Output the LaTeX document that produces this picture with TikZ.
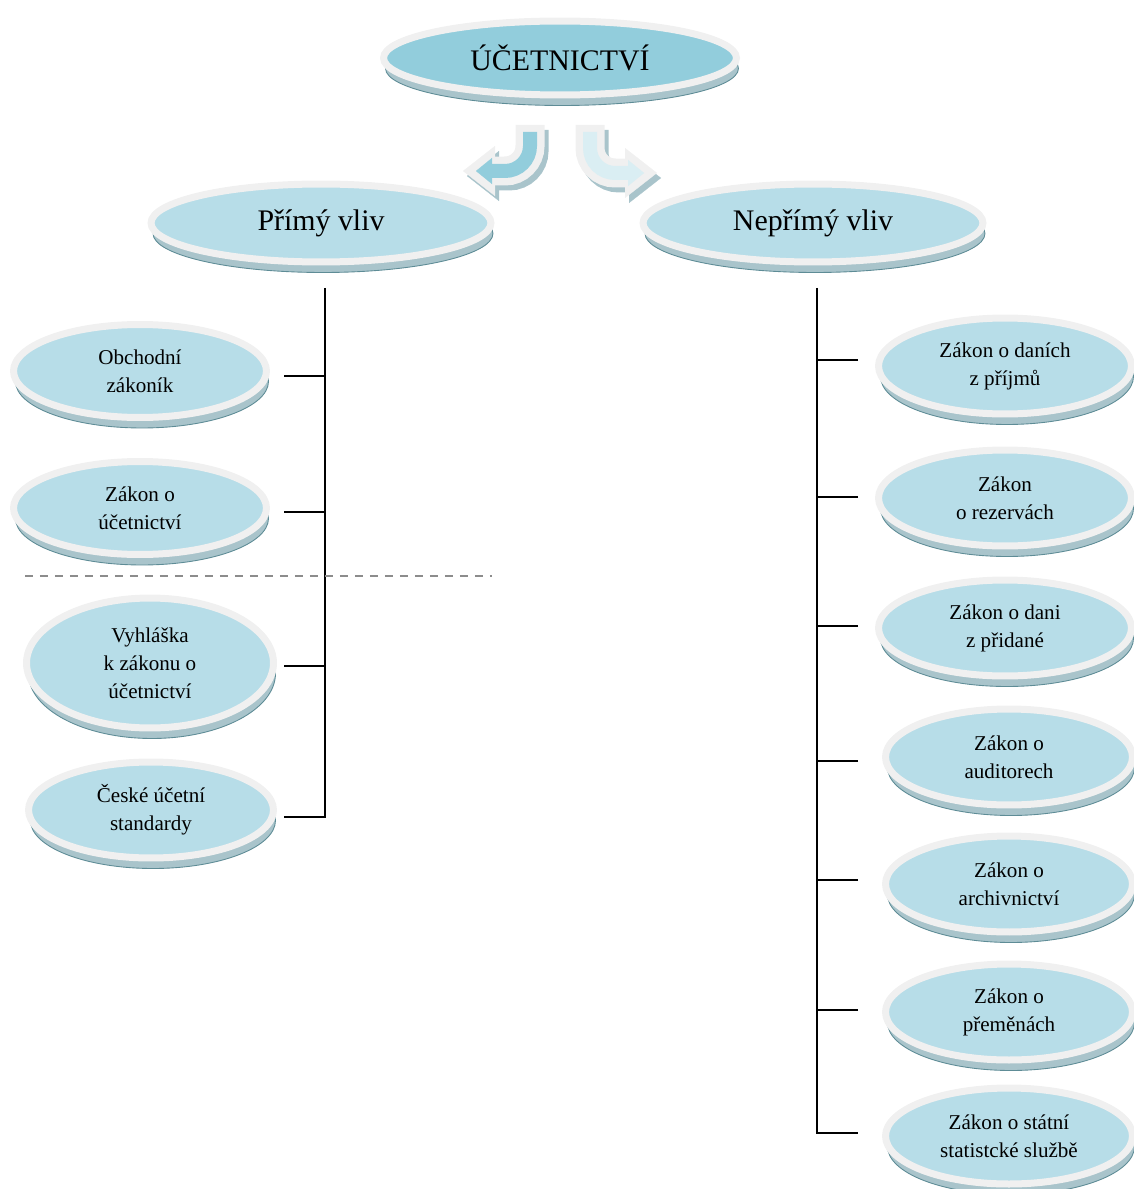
\documentclass[tikz,border=0pt]{standalone}
\usepackage{fontspec}
\setmainfont{Liberation Serif}
\usetikzlibrary{arrows.meta,shapes.geometric,shadows}
\definecolor{rim}{HTML}{F0F0F0}
\definecolor{discblue}{HTML}{B7DDE8}
\definecolor{topblue}{HTML}{92CDDC}
\definecolor{paleblue}{HTML}{DAEEF3}
\definecolor{edgefill}{HTML}{A9C4CB}
\definecolor{edgeline}{HTML}{5E8C96}

\begin{document}
\begin{tikzpicture}[
  x=0.02cm, y=-0.02cm,
  disc/.style={ellipse, draw=rim, line width=0.14cm, fill=discblue, inner sep=0pt,
               align=center, font=\fontsize{12}{15.9}\selectfont,
               drop shadow={shadow xshift=0.04cm, shadow yshift=-0.21cm, opacity=1,
                            fill=edgefill, draw=edgeline, line width=0.5pt}},
  bigdisc/.style={disc, minimum width=6.8cm, minimum height=1.56cm,
                  font=\fontsize{17}{20}\selectfont},
  leftdisc/.style={disc, minimum width=5.06cm, minimum height=1.86cm},
  rightdisc/.style={disc, minimum width=4.94cm, minimum height=1.92cm},
  tree/.style={line width=0.04cm},
  sep/.style={draw=black!45, line width=0.03cm, dash pattern=on 0.16cm off 0.14cm},
  turnshade/.style={draw=edgefill, line width=0.58cm, rounded corners=0.5cm,
                    -{Triangle[length=0.64cm, width=1.0cm, line width=0.1pt]}},
  turnrim/.style={draw=rim, line width=0.58cm, rounded corners=0.5cm,
                  -{Triangle[length=0.64cm, width=1.0cm, line width=0.1pt]}},
  turnfill/.style={line width=0.28cm, rounded corners=0.5cm,
                   -{Triangle[length=0.32cm, width=0.52cm, line width=0.1pt]}},
]
\useasboundingbox (0,0) rectangle (1133,1189);

% Top
\node[bigdisc, fill=topblue, minimum width=7.06cm, minimum height=1.48cm] (ucet) at (560,58) {ÚČETNICTVÍ};

% Turn arrows
\coordinate (lstart) at (530,125);
\coordinate (ltip) at (463,171);
\coordinate (linner) at (530,132);
\coordinate (ltipin) at (476,171);
\coordinate (rstart) at (590,125);
\coordinate (rtip) at (657,173);
\coordinate (rinner) at (590,132);
\coordinate (rtipin) at (644,173);
\draw[turnshade] ([shift={(4,5)}]lstart) |- ([shift={(4,5)}]ltip);
\draw[turnrim] (lstart) |- (ltip);
\draw[turnfill, draw=topblue] (linner) |- (ltipin);
\draw[turnshade] ([shift={(4,5)}]rstart) |- ([shift={(4,5)}]rtip);
\draw[turnrim] (rstart) |- (rtip);
\draw[turnfill, draw=paleblue] (rinner) |- (rtipin);

% Row 2
\node[bigdisc] (prime) at (321,223) {Přímý vliv};
\node[bigdisc] (nonprime) at (813,223) {Nepřímý vliv};

% Left column
\node[leftdisc] (obch) at (140,371) {Obchodní\\zákoník};
\node[leftdisc] (zou) at (140,508) {Zákon o\\účetnictví};
\node[leftdisc, minimum width=4.94cm, minimum height=2.6cm] (vyhl) at (150,663) {Vyhláška\\k zákonu o\\účetnictví};
\node[leftdisc, minimum width=4.9cm, minimum height=1.92cm] (cus) at (151,810) {České účetní\\standardy};

% Right column
\node[rightdisc, minimum width=5.06cm] (dp) at (1005,366) {Zákon o daních\\z příjmů};
\node[rightdisc, minimum width=5.06cm] (rez) at (1005,498) {Zákon\\o rezervách};
\node[rightdisc, minimum width=5.06cm] (dph) at (1005,628) {Zákon o dani\\z přidané};
\node[rightdisc] (aud) at (1009,757) {Zákon o\\auditorech};
\node[rightdisc] (arch) at (1009,884) {Zákon o\\archivnictví};
\node[rightdisc] (prem) at (1009,1012) {Zákon o\\přeměnách};
\node[rightdisc] (stat) at (1009,1136) {Zákon o státní\\statistcké službě};

% Trunks
\coordinate (ltop) at (325,288);
\coordinate (rtop) at (817,288);
\coordinate (t1) at (284,376);
\coordinate (t2) at (284,512);
\coordinate (t3) at (284,666);
\coordinate (t4) at (284,817);
\draw[tree] (ltop) -- (ltop |- t4) -- (t4);
\draw[tree] (t1) -- (t1 -| ltop);
\draw[tree] (t2) -- (t2 -| ltop);
\draw[tree] (t3) -- (t3 -| ltop);
\coordinate (s1) at (858,360);
\coordinate (s2) at (858,497);
\coordinate (s3) at (858,626);
\coordinate (s4) at (858,761);
\coordinate (s5) at (858,880);
\coordinate (s6) at (858,1010);
\coordinate (s7) at (858,1133);
\draw[tree] (rtop) -- (rtop |- s7) -- (s7);
\draw[tree] (s1) -- (s1 -| rtop);
\draw[tree] (s2) -- (s2 -| rtop);
\draw[tree] (s3) -- (s3 -| rtop);
\draw[tree] (s4) -- (s4 -| rtop);
\draw[tree] (s5) -- (s5 -| rtop);
\draw[tree] (s6) -- (s6 -| rtop);

% Divider
\coordinate (dl) at (25,576);
\coordinate (dr) at (492,576);
\draw[sep] (dl) -- (dr);
\end{tikzpicture}
\end{document}
